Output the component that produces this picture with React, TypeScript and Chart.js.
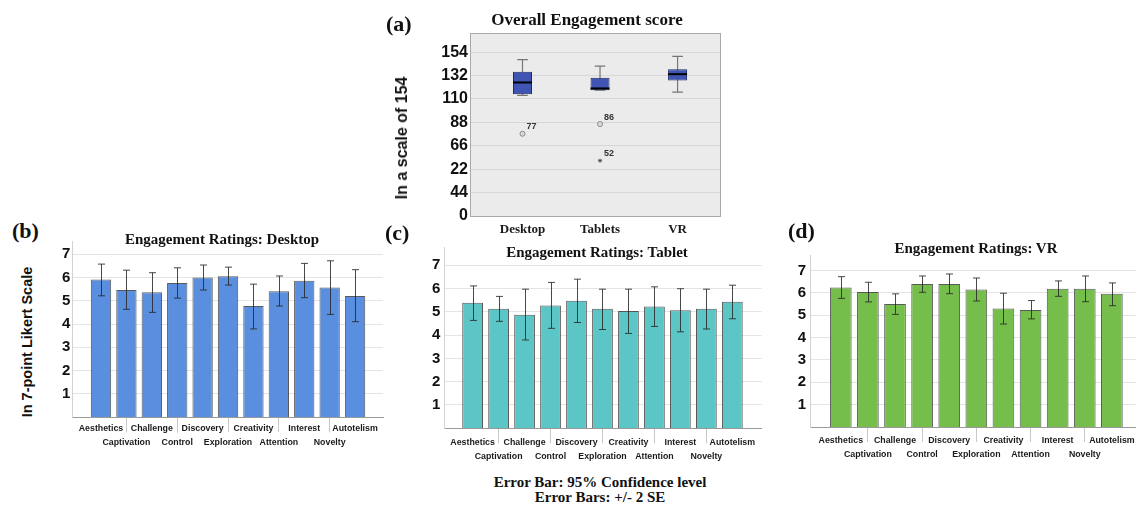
import React, { useEffect, useRef } from 'react';
import { Chart, registerables } from 'chart.js';

Chart.register(...registerables);

// ---------- Panel (a): box plot of overall engagement ----------
const A_GROUPS = ['Desktop', 'Tablets', 'VR'];
const A_MIN = [113.3, 118.3, 116.4];
const A_Q1 = [114.5, 118.3, 127.4];
const A_MEDIAN = [125.5, 119.9, 133.3];
const A_Q3 = [135.5, 129.9, 138.0];
const A_MAX = [147.0, 140.8, 150.0];
const A_OUTLIER_GROUP = [0, 1, 1];
const A_OUTLIER_VALUE = [77.3, 86.4, 52.0];
const A_OUTLIER_LABEL = ['77', '86', '52'];
const A_OUTLIER_EXTREME = [false, false, true];
const A_TICK_VALUES = [0, 22, 44, 66, 88, 110, 132, 154];
const A_TICK_LABELS = ['0', '44', '22', '66', '88', '110', '132', '154'];

// ---------- Panels (b)-(d): engagement ratings ----------
const ITEMS = ['Aesthetics', 'Captivation', 'Challenge', 'Control', 'Discovery', 'Exploration', 'Creativity', 'Attention', 'Interest', 'Novelty', 'Autotelism'];
const LIKERT_TICKS = [1, 2, 3, 4, 5, 6, 7];

const DESKTOP_MEAN = [5.91, 5.46, 5.36, 5.76, 6.0, 6.05, 4.77, 5.4, 5.86, 5.57, 5.2];
const DESKTOP_LOW = [5.21, 4.63, 4.5, 5.11, 5.46, 5.67, 3.79, 4.77, 5.13, 4.41, 4.1];
const DESKTOP_HIGH = [6.57, 6.31, 6.2, 6.41, 6.53, 6.44, 5.71, 6.06, 6.6, 6.71, 6.33];

const TABLET_MEAN = [5.39, 5.13, 4.87, 5.27, 5.47, 5.13, 5.03, 5.23, 5.07, 5.13, 5.43];
const TABLET_LOW = [4.63, 4.59, 3.79, 4.29, 4.54, 4.24, 4.07, 4.37, 4.14, 4.26, 4.7];
const TABLET_HIGH = [6.11, 5.66, 5.97, 6.26, 6.4, 5.97, 5.97, 6.07, 5.99, 5.97, 6.14];

const VR_MEAN = [6.25, 6.04, 5.51, 6.4, 6.4, 6.15, 5.3, 5.24, 6.19, 6.19, 5.96];
const VR_LOW = [5.76, 5.6, 5.04, 6.03, 5.97, 5.64, 4.61, 4.84, 5.85, 5.61, 5.43];
const VR_HIGH = [6.73, 6.48, 5.96, 6.76, 6.85, 6.67, 5.99, 5.66, 6.54, 6.76, 6.45];

const SANS = '"Liberation Sans", Arial, sans-serif';
const SERIF = '"Liberation Serif", "Times New Roman", serif';

const errorBarPlugin = {
  id: 'errorBars',
  afterDatasetsDraw(chart: any) {
    const ds: any = chart.data.datasets[0];
    if (!ds.errLow) return;
    const meta = chart.getDatasetMeta(0);
    const ys = chart.scales.y;
    const ctx = chart.ctx;
    ctx.save();
    ctx.strokeStyle = 'rgba(40,40,40,0.85)';
    ctx.lineWidth = 1;
    meta.data.forEach((el: any, i: number) => {
      const x = Math.round(el.x) + 0.5;
      const yl = ys.getPixelForValue(ds.errLow[i]);
      const yh = ys.getPixelForValue(ds.errHigh[i]);
      ctx.beginPath();
      ctx.moveTo(x, yl);
      ctx.lineTo(x, yh);
      ctx.moveTo(x - 3.5, yl);
      ctx.lineTo(x + 3.5, yl);
      ctx.moveTo(x - 3.5, yh);
      ctx.lineTo(x + 3.5, yh);
      ctx.stroke();
    });
    ctx.restore();
  },
};

const boxPlugin = {
  id: 'boxWhiskers',
  beforeDraw(chart: any) {
    const a = chart.chartArea;
    const ctx = chart.ctx;
    ctx.save();
    ctx.fillStyle = '#ebebeb';
    ctx.fillRect(a.left, a.top, a.right - a.left, a.bottom - a.top);
    ctx.restore();
  },
  beforeDatasetsDraw(chart: any) {
    const meta = chart.getDatasetMeta(0);
    const ys = chart.scales.y;
    const ctx = chart.ctx;
    ctx.save();
    ctx.strokeStyle = '#767676';
    ctx.lineWidth = 1.2;
    meta.data.forEach((el: any, i: number) => {
      const x = el.x;
      const cap = el.width * 0.28;
      const yMin = ys.getPixelForValue(A_MIN[i]);
      const yMax = ys.getPixelForValue(A_MAX[i]);
      ctx.beginPath();
      ctx.moveTo(x, yMin);
      ctx.lineTo(x, yMax);
      ctx.moveTo(x - cap, yMin);
      ctx.lineTo(x + cap, yMin);
      ctx.moveTo(x - cap, yMax);
      ctx.lineTo(x + cap, yMax);
      ctx.stroke();
    });
    ctx.restore();
  },
  afterDatasetsDraw(chart: any) {
    const meta = chart.getDatasetMeta(0);
    const ys = chart.scales.y;
    const ctx = chart.ctx;
    ctx.save();
    ctx.strokeStyle = '#000';
    ctx.lineWidth = 2;
    meta.data.forEach((el: any, i: number) => {
      const y = ys.getPixelForValue(A_MEDIAN[i]);
      ctx.beginPath();
      ctx.moveTo(el.x - el.width / 2, y);
      ctx.lineTo(el.x + el.width / 2, y);
      ctx.stroke();
    });
    const om = chart.getDatasetMeta(1);
    ctx.fillStyle = '#333';
    ctx.font = `bold 9px ${SANS}`;
    ctx.textAlign = 'left';
    ctx.textBaseline = 'middle';
    om.data.forEach((pt: any, i: number) => {
      ctx.fillText(A_OUTLIER_LABEL[i], pt.x + 4, pt.y - 7);
    });
    ctx.restore();
  },
  afterDraw(chart: any) {
    const a = chart.chartArea;
    const ctx = chart.ctx;
    ctx.save();
    ctx.strokeStyle = '#a9a9a9';
    ctx.lineWidth = 1;
    ctx.strokeRect(Math.round(a.left) + 0.5, Math.round(a.top) + 0.5, Math.round(a.right - a.left) - 1, Math.round(a.bottom - a.top));
    ctx.restore();
  },
};

function BoxPanel() {
  const ref = useRef<HTMLCanvasElement>(null);
  useEffect(() => {
    const chart = new Chart(ref.current as HTMLCanvasElement, {
      type: 'bar',
      data: {
        datasets: [
          {
            type: 'bar',
            data: A_GROUPS.map((_, i) => ({ x: i, y: [A_Q1[i], A_Q3[i]] })),
            backgroundColor: '#3f54b3',
            borderColor: '#1f2a66',
            borderWidth: 1,
            borderSkipped: false,
            barPercentage: 0.245,
            categoryPercentage: 1,
          } as any,
          {
            type: 'scatter',
            data: A_OUTLIER_VALUE.map((v, i) => ({ x: A_OUTLIER_GROUP[i], y: v })),
            pointStyle: A_OUTLIER_EXTREME.map((e) => (e ? 'star' : 'circle')),
            pointRadius: A_OUTLIER_EXTREME.map((e) => (e ? 2 : 2.5)),
            backgroundColor: A_OUTLIER_EXTREME.map((e) => (e ? '#555' : '#dcdcdc')),
            borderColor: A_OUTLIER_EXTREME.map((e) => (e ? '#555' : '#8a8a8a')),
            borderWidth: 1,
          } as any,
        ],
      },
      options: {
        animation: false,
        responsive: false,
        maintainAspectRatio: false,
        layout: { padding: { left: 0, top: 13, right: 9, bottom: 0 } },
        plugins: { legend: { display: false }, tooltip: { enabled: false }, title: { display: false } },
        scales: {
          x: {
            type: 'linear',
            offset: false,
            min: -0.677,
            max: 2.56,
            afterBuildTicks: (s: any) => {
              s.ticks = A_GROUPS.map((_, i) => ({ value: i }));
            },
            afterFit: (s: any) => {
              s.height = 34;
            },
            grid: { display: false, drawTicks: false, offset: false },
            border: { display: false },
            ticks: {
              autoSkip: false,
              maxRotation: 0,
              minRotation: 0,
              padding: 6,
              color: '#1a1a1a',
              font: { family: SERIF, size: 13, weight: 'bold' },
              callback: (v: any) => A_GROUPS[Math.round(Number(v))] ?? '',
            },
          },
          y: {
            type: 'linear',
            min: 0,
            max: 172,
            afterBuildTicks: (s: any) => {
              s.ticks = A_TICK_VALUES.map((v) => ({ value: v }));
            },
            afterFit: (s: any) => {
              s.width = 80;
            },
            grid: { color: '#d6d6d6', drawTicks: false },
            border: { display: false },
            ticks: {
              padding: 2,
              color: '#111',
              font: { family: SANS, size: 16, weight: 'bold' },
              callback: (_v: any, i: number) => A_TICK_LABELS[i],
            },
          },
        },
      } as any,
      plugins: [boxPlugin],
    });
    return () => chart.destroy();
  }, []);
  return <canvas ref={ref} width={340} height={230} style={{ position: 'absolute', left: 390, top: 20, display: 'block' }} />;
}

type BarProps = {
  left: number; top: number; width: number; height: number;
  padTop: number; padRight: number; yWidth: number; xHeight: number;
  yMax: number; xMin: number; xMax: number; yTickPad: number; labelPad: number;
  means: number[]; low: number[]; high: number[]; color: string;
};

function BarPanel(p: BarProps) {
  const ref = useRef<HTMLCanvasElement>(null);
  useEffect(() => {
    const chart = new Chart(ref.current as HTMLCanvasElement, {
      type: 'bar',
      data: {
        datasets: [
          {
            data: p.means.map((v, i) => ({ x: i, y: v })),
            backgroundColor: p.color,
            borderColor: 'rgba(60,60,60,0.85)',
            borderWidth: 1,
            barPercentage: 0.8,
            categoryPercentage: 1,
            errLow: p.low,
            errHigh: p.high,
          } as any,
        ],
      },
      options: {
        animation: false,
        responsive: false,
        maintainAspectRatio: false,
        layout: { padding: { left: 0, top: p.padTop, right: p.padRight, bottom: 0 } },
        plugins: { legend: { display: false }, tooltip: { enabled: false }, title: { display: false } },
        scales: {
          x: {
            type: 'linear',
            offset: false,
            min: p.xMin,
            max: p.xMax,
            afterBuildTicks: (s: any) => {
              s.ticks = ITEMS.map((_, i) => ({ value: i }));
            },
            afterFit: (s: any) => {
              s.height = p.xHeight;
            },
            grid: {
              offset: false,
              drawOnChartArea: false,
              drawTicks: true,
              tickLength: 15,
              tickColor: (c: any) => (c.index % 2 === 1 ? '#c8c8c8' : 'rgba(0,0,0,0)'),
            },
            border: { display: true, color: '#9a9a9a' },
            ticks: {
              autoSkip: false,
              maxRotation: 0,
              minRotation: 0,
              padding: p.labelPad,
              color: '#1a1a1a',
              font: { family: SANS, size: 8.8, weight: 'bold', lineHeight: 14 / 8.8 },
              callback: (v: any) => {
                const i = Math.round(Number(v));
                return i % 2 === 0 ? [ITEMS[i], ''] : ['', ITEMS[i]];
              },
            },
          },
          y: {
            type: 'linear',
            min: 0,
            max: p.yMax,
            afterBuildTicks: (s: any) => {
              s.ticks = LIKERT_TICKS.map((v) => ({ value: v }));
            },
            afterFit: (s: any) => {
              s.width = p.yWidth;
            },
            grid: { color: '#e4e4e4', drawTicks: false },
            border: { display: true, color: '#d2d2d2' },
            ticks: {
              padding: p.yTickPad,
              color: '#111',
              font: { family: SANS, size: 15, weight: 'bold' },
              callback: (v: any) => String(v),
            },
          },
        },
      } as any,
      plugins: [errorBarPlugin],
    });
    return () => chart.destroy();
  }, []);
  return <canvas ref={ref} width={p.width} height={p.height} style={{ position: 'absolute', left: p.left, top: p.top, display: 'block' }} />;
}

function Txt(props: { x: number; y: number; text: string; size: number; serif?: boolean; align?: 'left' | 'center'; rotate?: boolean }) {
  const { x, y, text, size, serif, align = 'center', rotate } = props;
  let transform = align === 'left' ? 'translate(0,-50%)' : 'translate(-50%,-50%)';
  if (rotate) transform = 'translate(-50%,-50%) rotate(-90deg)';
  return (
    <div
      style={{
        position: 'absolute',
        left: x,
        top: y,
        transform,
        fontFamily: serif ? SERIF : SANS,
        fontWeight: 'bold',
        fontSize: size,
        lineHeight: 1,
        whiteSpace: 'nowrap',
        color: '#111',
      }}
    >
      {text}
    </div>
  );
}

export default function App() {
  return (
    <div style={{ position: 'absolute', left: 0, top: 0, width: 1136, height: 506, background: '#fff', overflow: 'hidden' }}>
      <BoxPanel />
      <BarPanel
        left={40} top={228} width={350} height={226}
        padTop={13.7} padRight={7} yWidth={32.3} xHeight={36.7}
        yMax={7.53} xMin={-1.13} xMax={11.1} yTickPad={2} labelPad={-10.5}
        means={DESKTOP_MEAN} low={DESKTOP_LOW} high={DESKTOP_HIGH} color="#5a8ede"
      />
      <BarPanel
        left={410} top={234} width={360} height={230}
        padTop={12.7} padRight={8.3} yWidth={34.3} xHeight={35.7}
        yMax={7.78} xMin={-1.09} xMax={11.13} yTickPad={4} labelPad={-7.5}
        means={TABLET_MEAN} low={TABLET_LOW} high={TABLET_HIGH} color="#5cc6c6"
      />
      <BarPanel
        left={780} top={240} width={356} height={222}
        padTop={15} padRight={0} yWidth={30.7} xHeight={35}
        yMax={7.7} xMin={-1.11} xMax={10.89} yTickPad={4.5} labelPad={-8}
        means={VR_MEAN} low={VR_LOW} high={VR_HIGH} color="#76be4c"
      />

      <Txt x={386} y={24} text="(a)" size={22} serif align="left" />
      <Txt x={587} y={19} text="Overall Engagement score" size={17} serif />
      <Txt x={402} y={138} text="In a scale of 154" size={16} rotate />

      <Txt x={12} y={231} text="(b)" size={22} serif align="left" />
      <Txt x={222} y={239} text="Engagement Ratings: Desktop" size={15} serif />
      <Txt x={27} y={342} text="In 7-point Likert Scale" size={14.5} rotate />

      <Txt x={385} y={233} text="(c)" size={22} serif align="left" />
      <Txt x={597} y={252} text="Engagement Ratings: Tablet" size={15} serif />

      <Txt x={788} y={231} text="(d)" size={22} serif align="left" />
      <Txt x={976} y={248} text="Engagement Ratings: VR" size={15} serif />

      <Txt x={600} y={482} text="Error Bar: 95% Confidence level" size={15} serif />
      <Txt x={600} y={497} text="Error Bars: +/- 2 SE" size={15} serif />
    </div>
  );
}
